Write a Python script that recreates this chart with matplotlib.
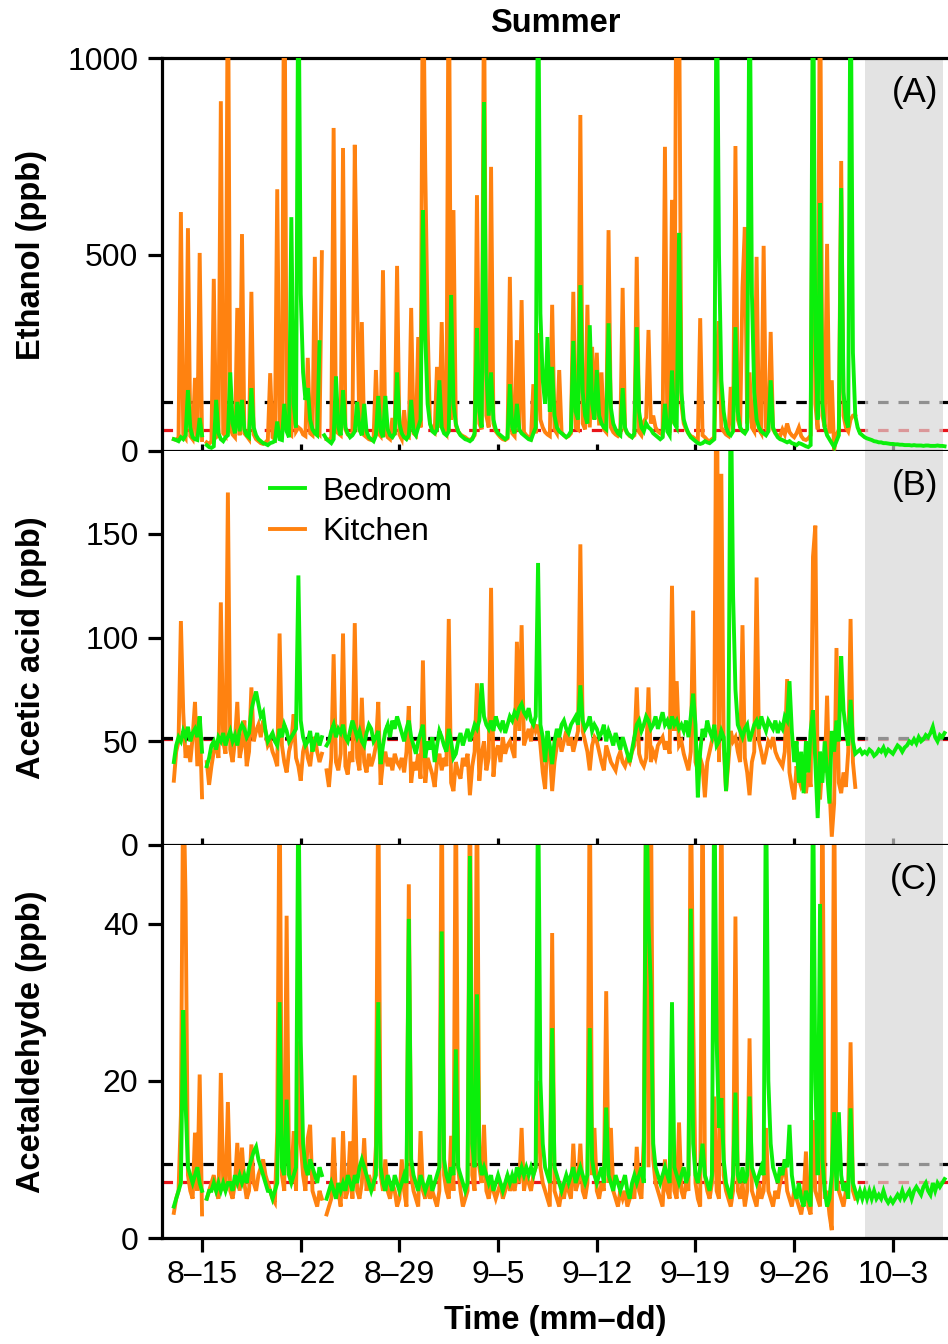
import numpy as np
import pandas as pd
import matplotlib
matplotlib.use("Agg")
import matplotlib.pyplot as plt
import matplotlib.dates as mdates
from matplotlib.ticker import FixedLocator, FuncFormatter
from matplotlib.lines import Line2D

plt.rcParams['font.family'] = ['Liberation Sans', 'DejaVu Sans']

N = None  # instrument gap

# 4-hourly concentrations starting 13 Aug 00:00, one row per day
ethanol_kitchen = [
    30, 28, 35, 608, 40, 32,
    567, 38, 30, 186, 36, 504,
    28, N, 22, 18, 25, 438,
    35, 40, 890, 45, 38, 1300,
    60, 42, 35, 364, 40, 552,
    45, 38, 30, 405, 42, 30,
    25, 20, 18, 22, 28, 198,
    35, 30, 666, 40, 38, 1400,
    70, 45, 40, 186, 50, 60,
    55, 42, 38, 237, 45, 40,
    494, 48, 42, 506, N, 30,
    28, 35, 822, 50, 45, 40,
    771, 55, 42, 38, 45, 779,
    379, 48, 328, 40, 35, 30,
    28, 32, 206, 45, 38, 460,
    48, 35, 30, 84, 40, 471,
    42, 30, 104, 38, 35, 364,
    45, 40, 290, 60, 1300, 715,
    320, 70, 55, 48, 214, 60,
    328, 55, 45, 1350, 80, 613,
    65, 50, 42, 38, 35, 30,
    28, 32, 40, 651, 70, 55,
    1200, 90, 60, 723, 70, 50,
    42, 35, 30, 28, 32, 443,
    45, 38, 282, 50, 384, 48,
    40, 35, 32, 170, 45, 300,
    80, 60, 48, 42, 38, 372,
    55, 45, 206, 48, 40, 35,
    38, 45, 405, 60, 55, 855,
    70, 55, 372, 60, 265, 80,
    250, 65, 200, 55, 48, 562,
    60, 48, 42, 38, 45, 415,
    55, 45, 38, 35, 40, 494,
    48, 40, 75, 85, 308, 70,
    90, 60, 50, 45, 42, 774,
    60, 55, 639, 70, 1500, 1200,
    120, 70, 55, 45, 38, 35,
    30, 28, 338, 40, 35, 28,
    25, 30, 35, 250, 330, 60,
    50, 42, 38, 163, 55, 776,
    80, 60, 417, 570, 70, 200,
    60, 50, 494, 55, 45, 522,
    60, 48, 303, 55, 45, 40,
    38, 55, 42, 70, 48, 40,
    35, 45, 60, 38, 30, 28,
    32, 40, 900, 120, 55, 1300,
    90, 60, 527, 45, 180, 2,
    40, 55, 738, 90, 60, 50,
    80, 90, 92,
]

ethanol_bedroom = [
    30, 28, 25, 35, 30, 40,
    155, 60, 35, 30, 28, 84,
    40, N, 15, 10, 8, 12,
    130, 45, 30, 25, 35, 40,
    200, 70, 45, 125, 50, 130,
    55, 40, 35, 160, 60, 40,
    30, 25, 20, 18, 15, 20,
    22, 25, 75, 30, 28, 120,
    50, 35, 595, 120, 60, 1300,
    400, 200, 130, 160, 80, 55,
    45, 40, 277, N, 40, 30,
    25, 20, 30, 190, 60, 40,
    155, 60, 45, 35, 40, 50,
    125, 55, 40, 120, 50, 35,
    30, 25, 40, 140, 50, 35,
    140, 55, 40, 35, 45, 200,
    70, 45, 35, 30, 40, 130,
    50, 40, 60, 80, 613, 290,
    120, 70, 50, 45, 55, 180,
    60, 45, 40, 50, 397, 120,
    70, 50, 40, 35, 30, 28,
    25, 30, 45, 313, 100, 60,
    888, 200, 90, 200, 80, 55,
    45, 40, 35, 30, 35, 170,
    60, 45, 120, 55, 45, 40,
    35, 30, 28, 45, 60, 1300,
    350, 180, 120, 290, 100, 214,
    90, 60, 50, 45, 40, 35,
    40, 50, 280, 100, 80, 422,
    150, 90, 70, 320, 120, 80,
    206, 90, 70, 60, 55, 325,
    110, 70, 55, 45, 40, 160,
    60, 45, 40, 35, 45, 315,
    100, 60, 50, 70, 60, 55,
    45, 40, 35, 30, 35, 120,
    50, 40, 205, 70, 60, 555,
    150, 80, 60, 45, 35, 30,
    25, 20, 18, 20, 25, 22,
    20, 25, 30, 1300, 500, 180,
    100, 60, 45, 40, 50, 315,
    100, 60, 50, 45, 55, 1300,
    400, 150, 80, 60, 50, 45,
    40, 50, 180, 60, 45, 35,
    30, 28, 25, 22, 25, 20,
    18, 15, 20, 18, 15, 12,
    10, 15, 1300, 300, 80, 631,
    120, 60, 40, 30, 20, 10,
    25, 40, 669, 150, 80, 60,
    1300, 250, 90, 60, 45, 40,
    35, 32, 30, 28, 25, 24,
    22, 22, 20, 20, 19, 18,
    18, 17, 17, 16, 16, 15,
    15, 15, 14, 15, 14, 14,
    14, 13, 14, 14, 13, 13,
    13, 14, 13, 13, 12,
]

acetic_kitchen = [
    31, 45, 50, 108, 64, 42,
    48, 40, 52, 69, 38, 62,
    23, N, 40, 29, 38, 45,
    48, 42, 117, 50, 44, 170,
    46, 40, 50, 69, 42, 48,
    60, 38, 45, 76, 50, 55,
    58, 52, 60, 55, 48, 50,
    45, 42, 38, 102, 48, 40,
    35, 45, 50, 63, 42, 38,
    31, 45, 50, 42, 38, 48,
    52, 45, 40, 44, N, 36,
    28, 42, 92, 40, 36, 44,
    102, 38, 34, 45, 40, 107,
    42, 36, 71, 40, 35, 44,
    38, 42, 48, 69, 29, 40,
    45, 38, 42, 36, 44, 40,
    38, 42, 35, 45, 67, 30,
    40, 36, 44, 32, 89, 30,
    42, 38, 34, 28, 40, 44,
    36, 42, 38, 109, 30, 26,
    40, 35, 32, 42, 38, 44,
    24, 38, 45, 78, 31, 44,
    50, 36, 42, 124, 33, 45,
    48, 40, 52, 44, 48, 50,
    46, 42, 98, 55, 106, 48,
    52, 56, 50, 60, 55, 58,
    48, 35, 27, 52, 45, 26,
    40, 48, 52, 45, 50, 55,
    48, 52, 45, 50, 55, 145,
    55, 50, 45, 36, 48, 52,
    50, 45, 40, 36, 48, 44,
    40, 38, 36, 42, 45, 40,
    38, 42, 40, 45, 48, 76,
    44, 40, 38, 42, 76, 40,
    45, 42, 48, 50, 52, 46,
    50, 44, 125, 55, 79, 48,
    50, 44, 40, 36, 45, 113,
    40, 36, 42, 38, 23, 40,
    45, 50, 55, 260, 40, 179,
    48, 26, 40, 55, 50, 52,
    45, 40, 106, 42, 35, 24,
    40, 45, 129, 50, 45, 39,
    44, 50, 48, 52, 45, 42,
    40, 38, 45, 80, 35, 28,
    22, 38, 32, 28, 30, 25,
    35, 28, 139, 154, 30, 22,
    40, 35, 72, 28, 4, 20,
    95, 30, 25, 35, 28, 45,
    109, 40, 28,
]

acetic_bedroom = [
    40, 48, 52, 50, 55, 52,
    57, 50, 54, 56, 52, 62,
    45, N, 38, 42, 48, 50,
    46, 52, 50, 54, 48, 52,
    55, 50, 53, 48, 55, 58,
    56, 52, 54, 65, 70, 74,
    68, 62, 64, 55, 50, 52,
    54, 50, 48, 56, 52, 58,
    55, 50, 52, 54, 56, 130,
    60, 52, 48, 50, 55, 45,
    50, 54, 48, 52, N, 48,
    50, 55, 58, 52, 56, 54,
    58, 52, 50, 55, 60, 56,
    52, 55, 50, 48, 54, 58,
    56, 50, 52, 55, 39, 48,
    55, 58, 52, 60, 56, 62,
    58, 54, 50, 56, 60, 52,
    48, 44, 50, 54, 58, 42,
    50, 46, 52, 40, 48, 55,
    52, 48, 45, 56, 50, 42,
    44, 50, 54, 48, 52, 56,
    50, 54, 58, 56, 60, 78,
    62, 58, 56, 60, 55, 62,
    58, 56, 60, 54, 58, 62,
    60, 64, 62, 66, 68, 64,
    62, 66, 60, 58, 62, 136,
    58, 52, 40, 55, 48, 39,
    50, 56, 52, 58, 60, 56,
    54, 58, 60, 62, 58, 77,
    60, 56, 58, 62, 55, 58,
    56, 52, 54, 58, 50, 55,
    52, 48, 54, 50, 46, 52,
    48, 44, 40, 46, 52, 58,
    60, 55, 58, 62, 60, 56,
    58, 62, 56, 60, 64, 58,
    60, 56, 62, 58, 60, 56,
    58, 55, 60, 52, 62, 73,
    58, 23, 45, 56, 52, 60,
    55, 52, 58, 48, 50, 55,
    52, 26, 45, 230, 120, 75,
    58, 55, 52, 56, 58, 50,
    54, 58, 60, 56, 62, 58,
    55, 60, 58, 56, 60, 54,
    58, 56, 62, 60, 79, 55,
    40, 50, 30, 45, 25, 50,
    35, 55, 65, 40, 13, 45,
    30, 50, 35, 20, 55, 45,
    60, 50, 91, 65, 55, 48,
    70, 50, 44, 45, 46, 44,
    45, 44, 46, 45, 43, 44,
    46, 45, 47, 44, 46, 45,
    44, 46, 48, 47, 45, 47,
    48, 50, 49, 51, 49, 52,
    50, 51, 53, 52, 54, 57,
    52, 50, 53, 52, 54,
]

acetaldehyde_kitchen = [
    3.2, 5, 6, 15.6, 60, 43,
    8, 6, 5, 13.4, 6, 20.8,
    3, N, 5, 6, 7, 8,
    6, 5, 21, 7, 6, 17.3,
    6, 5, 7, 12.1, 6, 11.5,
    7, 5, 6, 11.9, 7, 6,
    8, 9, 10, 8, 7, 6,
    5, 4.5, 13.5, 60, 8, 6,
    41, 9, 7, 13.6, 6, 25,
    12, 8, 6, 12.7, 14.4, 6,
    5, 4, 6, 5, N, 3,
    4, 5, 12.8, 5, 6, 4,
    13.6, 5, 6, 12.3, 5, 20.7,
    6, 5, 7, 12.7, 6, 8,
    7, 6, 11.7, 60, 8, 6,
    10, 6, 5, 7, 6, 4,
    5, 10, 6, 4, 45, 8,
    6, 5, 4, 13.6, 6, 5,
    7, 5, 6, 5, 4, 6,
    60, 8, 6, 5, 13, 6,
    60, 9, 6, 4, 5, 6,
    60, 8, 6, 60, 9, 7,
    14.4, 6, 5, 7, 6, 5,
    6, 7, 5, 6, 8, 6,
    7, 6, 8, 7, 14, 6,
    8, 7, 6, 8, 9, 20,
    9, 7, 6, 5, 4, 38.8,
    6, 5, 4, 6, 5, 7,
    6, 5, 12, 6, 7, 12,
    6, 5, 7, 60, 8, 14,
    6, 5, 7, 6, 31.4, 7,
    14, 6, 5, 4, 6, 5,
    6, 4, 5, 6, 5, 11.6,
    6, 5, 12.7, 60, 9, 60,
    10, 7, 6, 5, 4, 10,
    6, 5, 14.4, 6, 5, 14.7,
    6, 5, 7, 6, 60, 28.3,
    7, 5, 4, 60, 8, 6,
    5, 7, 18, 6, 5, 60,
    8, 6, 5, 4, 6, 40.9,
    6, 5, 7, 4, 6, 25.4,
    6, 5, 4, 7, 5, 6,
    14, 6, 5, 4, 6, 5,
    7, 8, 10, 6, 5, 4,
    6, 5, 4, 3, 5, 11,
    4, 3, 15, 6, 5, 4,
    60, 5, 6, 3, 1, 60,
    8, 6, 5, 4, 6, 7,
    24.9, 6, 5,
]

acetaldehyde_bedroom = [
    4, 5, 6, 7, 29, 17,
    9, 8, 7, 8, 9, 7,
    6, N, 5, 6, 6, 7,
    6, 7, 6, 7, 6, 7,
    7, 6, 8, 7, 8, 7,
    8, 7, 9, 10, 11, 11.6,
    10, 9, 8, 7, 6, 6,
    5, 6, 7, 30, 9, 8,
    17.6, 8, 7, 8, 9, 60,
    25, 12, 9, 8, 10, 9,
    8, 7, 9, 8, N, 5,
    6, 7, 6, 5, 7, 6,
    7, 6, 8, 7, 6, 8,
    7, 9, 10, 9, 8, 7,
    6, 7, 8, 30, 9, 7,
    6, 8, 7, 6, 8, 7,
    6, 7, 8, 7, 40.6, 10,
    8, 7, 6, 8, 7, 6,
    7, 8, 6, 7, 8, 9,
    39, 10, 8, 7, 9, 8,
    24, 9, 8, 7, 6, 7,
    48.6, 12, 9, 31, 10, 8,
    9, 8, 7, 8, 6, 7,
    8, 7, 6, 7, 8, 7,
    8, 7, 9, 8, 9, 8,
    9, 8, 9, 8, 9, 60,
    20, 12, 9, 8, 7, 26.7,
    9, 8, 7, 6, 7, 8,
    7, 8, 9, 7, 8, 9,
    8, 7, 8, 26.7, 10, 8,
    7, 8, 9, 7, 16.6, 8,
    7, 6, 8, 7, 6, 7,
    8, 6, 5, 7, 8, 7,
    8, 9, 7, 60, 40, 32,
    12, 9, 8, 7, 8, 9,
    8, 7, 30, 9, 8, 7,
    8, 9, 7, 8, 41.9, 12,
    8, 7, 9, 12, 8, 7,
    6, 8, 60, 25, 14, 17.8,
    10, 7, 6, 5, 8, 18.5,
    8, 7, 9, 7, 8, 18,
    9, 8, 7, 8, 9, 8,
    60, 20, 12, 9, 8, 7,
    9, 8, 10, 9, 14.4, 8,
    6, 5, 7, 5, 4, 6,
    5, 4, 60, 20, 8, 42.5,
    10, 6, 4, 5, 8, 16,
    6, 16, 8, 6, 7, 5,
    16.5, 7, 6, 5, 6, 5,
    6, 5, 6, 5, 6, 5,
    5.5, 5, 6, 5, 4.5, 5,
    4.5, 5, 5.5, 5, 6, 5,
    5.5, 6, 5, 6, 6.5, 6,
    5.5, 6.5, 7, 6, 5.5, 7,
    6, 7, 6.5, 7, 7.5,
]

panel_ylabels = ["Ethanol (ppb)", "Acetic acid (ppb)", "Acetaldehyde (ppb)"]
panel_tags = ["(A)", "(B)", "(C)"]
panel_ylims = [1000, 190, 50]
panel_yticks = [[0, 500, 1000], [0, 50, 100, 150], [0, 20, 40]]
upper_ref = [125, 51.5, 9.4]   # black dashed reference level
lower_ref = [53, 51, 7.1]      # red dashed reference level
tick_days = ["2019-08-15", "2019-08-22", "2019-08-29", "2019-09-05",
             "2019-09-12", "2019-09-19", "2019-09-26", "2019-10-03"]

start = pd.Timestamp("2019-08-13 00:00")
shade_from = pd.Timestamp("2019-10-01 00:00")
shade_to = start + pd.Timedelta(days=54.55)
x_lo = start - pd.Timedelta(days=0.84)
x_hi = start + pd.Timedelta(days=54.91)

kitchen = [ethanol_kitchen, acetic_kitchen, acetaldehyde_kitchen]
bedroom = [ethanol_bedroom, acetic_bedroom, acetaldehyde_bedroom]

GREEN = "#0BEF0B"
ORANGE = "#FF8210"
LW = 2.8

fig = plt.figure(figsize=(9.48, 13.44), dpi=100)
W, H = 948.0, 1344.0
left = 162 / W
width = 1.0 - left
rows = [(58, 451), (451, 845), (845, 1238)]
axes = []
for (top, bot) in rows:
    ax = fig.add_axes([left, 1 - bot / H, width, (bot - top) / H])
    axes.append(ax)

for i, ax in enumerate(axes):
    k = np.array(kitchen[i], dtype=float)
    b = np.array(bedroom[i], dtype=float)
    tk = pd.date_range(start, periods=len(k), freq="4h")
    tb = pd.date_range(start, periods=len(b), freq="4h")

    ax.axhline(upper_ref[i], color="black", lw=2.3, dashes=(3.3, 3.1), zorder=1.5)
    ax.axhline(lower_ref[i], color="#e8141a", lw=2.3, dashes=(3.3, 3.1), zorder=1.4)
    ax.axvspan(shade_from, shade_to, color="#d6d6d6", alpha=0.68, lw=0, zorder=2)
    ax.plot(tk, k, color=ORANGE, lw=LW, zorder=3, solid_joinstyle="miter")
    ax.plot(tb, b, color=GREEN, lw=LW, zorder=3.2, solid_joinstyle="miter")

    ax.set_xlim(x_lo, x_hi)
    ax.set_ylim(0, panel_ylims[i])
    ax.set_yticks(panel_yticks[i])
    ax.xaxis.set_major_locator(FixedLocator(mdates.date2num(pd.to_datetime(tick_days))))
    ax.xaxis.set_major_formatter(
        FuncFormatter(lambda v, p: f"{mdates.num2date(v).month}\u2013{mdates.num2date(v).day}"))

    for s in ["left", "bottom", "top"]:
        ax.spines[s].set_linewidth(2.3)
        ax.spines[s].set_color("black")
    ax.spines["right"].set_visible(False)
    ax.spines["top"].set_visible(i == 0)

    ax.tick_params(axis="y", direction="out", length=10, width=2.3,
                   labelsize=23, pad=7)
    ax.tick_params(axis="x", direction="inout" if i < 2 else "out",
                   length=10, width=2.3, labelsize=23, pad=6,
                   labelbottom=(i == 2))
    ax.set_ylabel(panel_ylabels[i], fontsize=23.5, fontweight="bold")
    ax.yaxis.set_label_coords(-0.146, 0.5)
    ax.text(0.988, 0.912, panel_tags[i], transform=ax.transAxes,
            ha="right", va="center", fontsize=25, zorder=5)

handles = [Line2D([], [], color=GREEN, lw=LW), Line2D([], [], color=ORANGE, lw=LW)]
axes[1].legend(handles, ["Bedroom", "Kitchen"], loc="upper left",
               bbox_to_anchor=(0.137, 0.935), frameon=False, fontsize=23,
               handlelength=1.1, handletextpad=0.55, labelspacing=0.32,
               borderpad=0, borderaxespad=0)

fig.text(555 / W, 1 - 24 / H, "Summer", ha="center", va="center",
         fontsize=23.5, fontweight="bold")
fig.text(555 / W, 1 - 1321 / H, "Time (mm\u2013dd)", ha="center", va="center",
         fontsize=23.5, fontweight="bold")

fig.savefig("out.png", dpi=100)
